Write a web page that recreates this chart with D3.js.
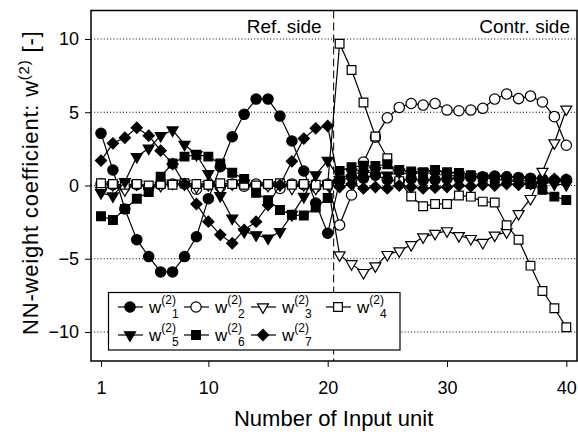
<!DOCTYPE html>
<html>
<head>
<meta charset="utf-8">
<script src="https://cdn.jsdelivr.net/npm/d3@7"></script>
<style>
  body { margin: 0; background: #fff; }
  text { font-family: "Liberation Sans", Arial, Helvetica, sans-serif; fill: #000; }
</style>
</head>
<body>
<svg id="chart" width="578" height="434"></svg>
<script>
// Input unit numbers: 1-20 reference side, 21-40 contralateral side
const inputUnits = d3.range(1, 41);

// Second-layer weight coefficients w(2)_k for each hidden unit k
const w1 = [3.56, 1.06, -1.6, -3.7, -4.85, -5.9, -5.9, -4.85, -3.5, -0.9,
            1.28, 3.33, 4.86, 5.9, 5.9, 4.74, 3.04, 0.99, -1.2, -3.26,
            0.3, 0.6, 0.5, 0.7, 0.4, 0.3, 0.45, 0.35, 0.4, 0.45,
            0.5, 0.55, 0.6, 0.65, 0.6, 0.55, 0.5, 0.45, 0.35, 0.4];
const w2 = [0.1, 0.05, -0.1, 0.05, -0.15, 0.05, 0.1, 0.1, -0.25, 0.05,
            -0.1, 0.1, -0.05, 0.1, 0.05, -0.2, 0.1, 0.05, -0.1, 0.1,
            -2.7, -0.65, 1.6, 3.3, 4.62, 5.33, 5.6, 5.49, 5.6, 5.15,
            5.1, 5.15, 5.27, 5.9, 6.24, 5.93, 6.1, 5.7, 4.7, 2.75];
const w3 = [-0.35, 0.05, -0.3, 0.1, -0.2, 0, 0.15, 0.1, -0.1, 0.05,
            -0.2, 0.1, 0.15, -0.05, 0, 0.05, -0.2, 0.05, -0.2, 0.1,
            -4.75, -5.35, -5.95, -5.5, -4.72, -4.47, -4.05, -3.52, -3.28, -3.1,
            -3.43, -3.63, -3.9, -3.4, -3.18, -1.93, -0.9, 0.95, 2.9, 5.2];
const w4 = [0.15, 0.1, 0.05, 0.1, 0, 0.1, 0.05, 0.15, 0.1, 0.05,
            0.15, 0.1, 0.05, 0, 0.1, 0.15, 0.05, 0.1, 0.05, 0.05,
            9.68, 7.88, 5.66, 3.35, 1.86, 0.3, -0.75, -1.42, -1.26, -1.26,
            -0.68, -0.76, -1.1, -1.16, -2.71, -3.7, -5.47, -7.2, -8.38, -9.68];
const w5 = [-0.5, -0.72, 0.26, 1.97, 2.54, 3.4, 3.78, 2.8, 2.1, 0.8,
            -0.7, -2.24, -3.15, -3.38, -3.6, -3.15, -2.0, -0.76, 0.72, 1.7,
            0.4, 0.9, 0.8, 1.0, 0.7, 0.9, 0.75, 0.9, 0.8, 0.65,
            0.7, 0.6, 0.5, 0.45, 0.35, 0.4, 0.25, 0.3, 0.1, 0.05];
const w6 = [-2.1, -2.35, -1.6, -0.9, -0.45, 0.6, 1.5, 1.97, 2.1, 1.97,
            1.5, 0.87, 0.45, -0.5, -1.0, -1.67, -2.0, -2.05, -1.5, -0.85,
            1.0, 1.25, 1.35, 1.33, 1.45, 1.06, 0.95, 0.9, 1.06, 0.9,
            0.85, 0.7, 0.55, 0.45, 0.35, 0.25, 0.1, -0.3, -0.76, -0.99];
const w7 = [1.7, 2.88, 3.26, 3.94, 3.4, 2.38, 1.47, 0.1, -1.26, -2.47,
            -3.37, -3.94, -3.03, -2.47, -1.33, 0.03, 1.65, 3.2, 3.9, 4.06,
            -0.1, 0.1, -0.2, -0.1, -0.2, 0, -0.1, -0.2, -0.15, -0.1,
            0, -0.05, 0.05, 0, 0.1, 0.05, 0.1, 0.2, 0.45, 0.4];

const seriesIndex = ["1", "2", "3", "4", "5", "6", "7"];
const xTicks = [1, 10, 20, 30, 40];
const yTicks = [-10, -5, 0, 5, 10];
const sideBoundary = 20.5;
const sideLabels = ["Ref. side", "Contr. side"];

// marker style for each series: shape, filled?
const markerShapes = ["circle", "circle", "triangleDown", "square", "triangleDown", "square", "diamond"];
const markerFilled = [true, false, false, false, true, true, true];

const seriesValues = [w1, w2, w3, w4, w5, w6, w7];

const svg = d3.select("#chart");
const frame = { left: 91, right: 577, top: 10.5, bottom: 361 };

const x = d3.scaleLinear().domain([1, 40]).range([101, 566.3]);
const y = d3.scaleLinear().domain([-12, 12]).range([361.3, 9.7]);

// dotted horizontal grid lines
svg.append("g").selectAll("line").data(yTicks).join("line")
  .attr("x1", frame.left).attr("x2", frame.right)
  .attr("y1", d => y(d)).attr("y2", d => y(d))
  .attr("stroke", "#000").attr("stroke-width", 1)
  .attr("stroke-dasharray", "1,2.2");

// boundary between reference and contralateral inputs
svg.append("line")
  .attr("x1", x(sideBoundary)).attr("x2", x(sideBoundary))
  .attr("y1", frame.top).attr("y2", frame.bottom)
  .attr("stroke", "#000").attr("stroke-width", 1)
  .attr("stroke-dasharray", "8,4");

// side captions
svg.append("text").attr("x", x(sideBoundary) - 12).attr("y", 33)
  .attr("text-anchor", "end").attr("font-size", 19).text(sideLabels[0]);
svg.append("text").attr("x", frame.right - 7).attr("y", 33)
  .attr("text-anchor", "end").attr("font-size", 19).text(sideLabels[1]);

// marker generator
function markerPath(shape) {
  switch (shape) {
    case "circle": return d3.symbol(d3.symbolCircle, 84)();
    case "square": return d3.symbol(d3.symbolSquare, 76)();
    case "diamond": return d3.symbol(d3.symbolSquare, 62)();
    case "triangleDown": return d3.symbol(d3.symbolTriangle, 52)();
  }
}
function markerRotation(shape) {
  if (shape === "diamond") return 45;
  if (shape === "triangleDown") return 180;
  return 0;
}

const line = d3.line().x((d, i) => x(inputUnits[i])).y(d => y(d));

const plot = svg.append("g");
seriesValues.forEach((vals, k) => {
  const g = plot.append("g");
  g.append("path").datum(vals).attr("d", line)
    .attr("fill", "none").attr("stroke", "#000").attr("stroke-width", 1.2);
  g.selectAll("path.mk").data(vals).join("path").attr("class", "mk")
    .attr("d", markerPath(markerShapes[k]))
    .attr("transform", (d, i) => `translate(${x(inputUnits[i])},${y(d)}) rotate(${markerRotation(markerShapes[k])})`)
    .attr("fill", markerFilled[k] ? "#000" : "#fff")
    .attr("stroke", "#000").attr("stroke-width", 1.2);
});

// frame
svg.append("rect")
  .attr("x", frame.left).attr("y", frame.top)
  .attr("width", frame.right - frame.left).attr("height", frame.bottom - frame.top)
  .attr("fill", "none").attr("stroke", "#000").attr("stroke-width", 1.5);

// axes
const yAxis = svg.append("g").attr("transform", `translate(${frame.left},0)`)
  .call(d3.axisLeft(y).tickValues(yTicks).tickSize(6).tickPadding(6).tickFormat(d3.format("d")));
yAxis.select(".domain").remove();
yAxis.selectAll("text").attr("font-size", 18).attr("fill", "#000")
  .attr("font-family", "Liberation Sans, Arial, sans-serif");

const xAxis = svg.append("g").attr("transform", `translate(0,${frame.bottom})`)
  .call(d3.axisBottom(x).tickValues(xTicks).tickSize(6).tickPadding(14).tickFormat(d3.format("d")));
xAxis.select(".domain").remove();
xAxis.selectAll("text").attr("font-size", 18).attr("fill", "#000")
  .attr("font-family", "Liberation Sans, Arial, sans-serif");

// axis titles
svg.append("text").attr("x", x(20.5)).attr("y", 426)
  .attr("text-anchor", "middle").attr("font-size", 22).text("Number of Input unit");

const yTitle = svg.append("text")
  .attr("transform", `translate(38,${(frame.top + frame.bottom) / 2 - 3}) rotate(-90)`)
  .attr("text-anchor", "middle").attr("font-size", 22).attr("letter-spacing", 0.8);
yTitle.append("tspan").text("NN-weight coefficient: w");
yTitle.append("tspan").attr("font-size", 15).attr("dy", -9).text("(2)");
yTitle.append("tspan").attr("dy", 9).text(" [-]");

// legend
const legend = svg.append("g");
legend.append("rect").attr("x", 108.5).attr("y", 292.5).attr("width", 291.5).attr("height", 57.5)
  .attr("fill", "#fff").attr("stroke", "#000").attr("stroke-width", 1.2);
const legendPos = [[130, 307], [196, 307], [263, 307], [338, 307], [130, 335], [196, 335], [263, 335]];
seriesIndex.forEach((idx, k) => {
  const [lx, ly] = legendPos[k];
  const g = legend.append("g").attr("transform", `translate(${lx},${ly})`);
  g.append("line").attr("x1", -12).attr("x2", 13).attr("stroke", "#000").attr("stroke-width", 1.2);
  g.append("path").attr("d", markerPath(markerShapes[k]))
    .attr("transform", `rotate(${markerRotation(markerShapes[k])})`)
    .attr("fill", markerFilled[k] ? "#000" : "#fff").attr("stroke", "#000").attr("stroke-width", 1.2);
  const t = g.append("text").attr("x", 19).attr("y", 6).attr("font-size", 17);
  t.append("tspan").text("w");
  t.append("tspan").attr("font-size", 12).attr("dy", -9).text("(2)");
  t.append("tspan").attr("font-size", 12).attr("dx", -4).attr("dy", 14).text(idx);
});
</script>
</body>
</html>
